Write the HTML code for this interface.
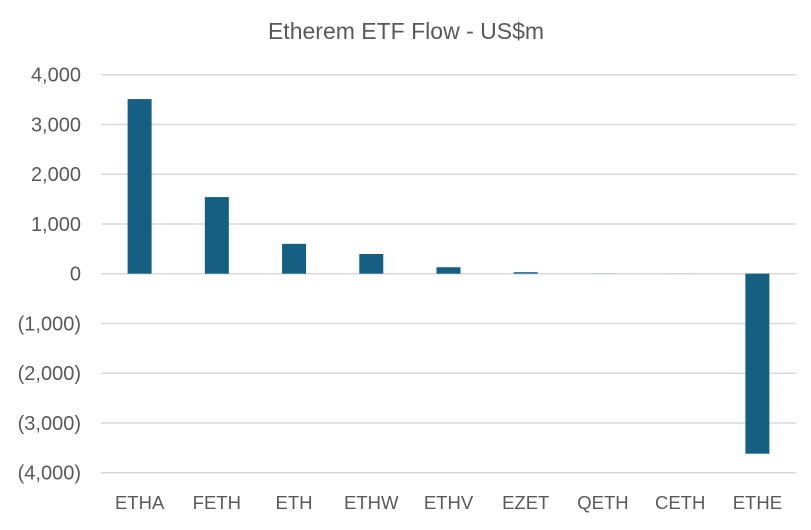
<!DOCTYPE html>
<html><head><meta charset="utf-8"><style>
body{margin:0;background:#fff;}
svg text{font-family:"Liberation Sans",sans-serif;}
</style></head><body>
<svg width="811" height="525" viewBox="0 0 811 525">
<text x="406" y="39" text-anchor="middle" font-size="23" fill="#595959">Etherem ETF Flow - US$m</text>
<g id="grid"></g><g id="bars"></g><g id="ylabels"></g><g id="xlabels"></g>
</svg>
<script>
const categories=["ETHA","FETH","ETH","ETHW","ETHV","EZET","QETH","CETH","ETHE"];
const values=[3510,1540,600,396,130,30,2,1,-3618];
const ticks=[4000,3000,2000,1000,0,-1000,-2000,-3000,-4000];
const tickLabels=["4,000","3,000","2,000","1,000","0","(1,000)","(2,000)","(3,000)","(4,000)"];
const ns="http://www.w3.org/2000/svg";
const L=101,R=796,y0=273.7,pxPer=49.75/1000,band=(R-L)/categories.length,bw=24;
const y=v=>y0-v*pxPer, x=i=>L+band*(i+0.5);
function mk(t,a,p){const e=document.createElementNS(ns,t);for(const k in a)e.setAttribute(k,a[k]);document.getElementById(p).appendChild(e);return e;}
ticks.forEach((t,i)=>{
 const g=mk("line",{x1:L,x2:R,y1:y(t),y2:y(t),stroke:"#d9d9d9","stroke-width":1.5},"grid");
 
 
 const tx=mk("text",{x:81,y:y(t)+7,"text-anchor":"end","font-size":20,fill:"#595959"},"ylabels");
 tx.textContent=tickLabels[i];
 
 
});
categories.forEach((c,i)=>{
 const v=values[i];
 const b=mk("rect",{x:x(i)-bw/2,y:Math.min(y(v),y0),width:bw,height:Math.abs(y(v)-y0),fill:"#156082"},"bars");
 
 
 const t=mk("text",{x:x(i),y:509,"text-anchor":"middle","font-size":18.5,fill:"#595959"},"xlabels");
 t.textContent=c;
 
 
});
</script>
</body></html>
